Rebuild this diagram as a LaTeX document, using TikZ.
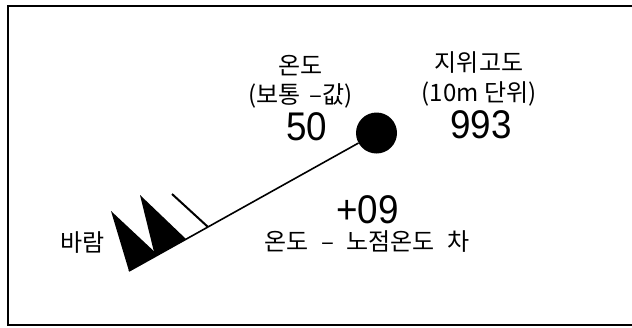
\documentclass[tikz,border=0pt]{standalone}
\usepackage{fontspec}
\usepackage{graphicx}
\setmainfont{Liberation Sans}
\newfontfamily\kr{Noto Sans CJK KR}
\begin{document}
\begin{tikzpicture}[x=1pt,y=-1pt,
  kor/.style={font=\kr\fontsize{24}{27}\selectfont, inner sep=0pt},
  num/.style={font=\fontsize{40}{44}\selectfont, inner sep=0pt},
  frame/.style={line width=2pt},
  shaft/.style={line width=1.6pt},
  barb/.style={line width=2pt},
  station/.style={circle, fill=black, minimum size=41pt, inner sep=0pt}]
\useasboundingbox (0,0) rectangle (632,327);
\draw[frame] (634,6) -- (8,6) -- (8,325) -- (634,325);
\node[station] (st) at (376.5,133) {};
\coordinate (tail) at (129,271);
\coordinate (p1a) at (111,211);
\coordinate (p1b) at (158,255);
\coordinate (p2a) at (155,256);
\coordinate (p2b) at (140,195);
\coordinate (p2c) at (186,239);
\coordinate (b1) at (208,227);
\coordinate (b2) at (172,194);
\draw[shaft] (st) -- (tail);
\fill (tail) -- (p1a) -- (p1b) -- cycle;
\fill (p2a) -- (p2b) -- (p2c) -- cycle;
\draw[barb] (b1) -- (b2);
\node[kor] (t1) at (300.5,65.5) {온도};
\node[kor] (t2) at (300.5,96) {(보통\hspace{3pt} –값)};
\node[num] (t3) at (306.7,127) {\scalebox{0.92}[1]{50}};
\node[kor] (h1) at (479,63) {지위고도};
\node[kor] (h2) at (479,94) {(10m 단위)};
\node[num] (h3) at (481,125) {\scalebox{0.92}[1]{993}};
\node[num] (d1) at (367.5,209.5) {\scalebox{0.92}[1]{+09}};
\node[kor] (d2) at (367,242) {온도\hspace{7pt} –\hspace{7pt} 노점온도\hspace{7pt} 차};
\node[kor] (w) at (82.5,243) {바람};
\end{tikzpicture}
\end{document}
